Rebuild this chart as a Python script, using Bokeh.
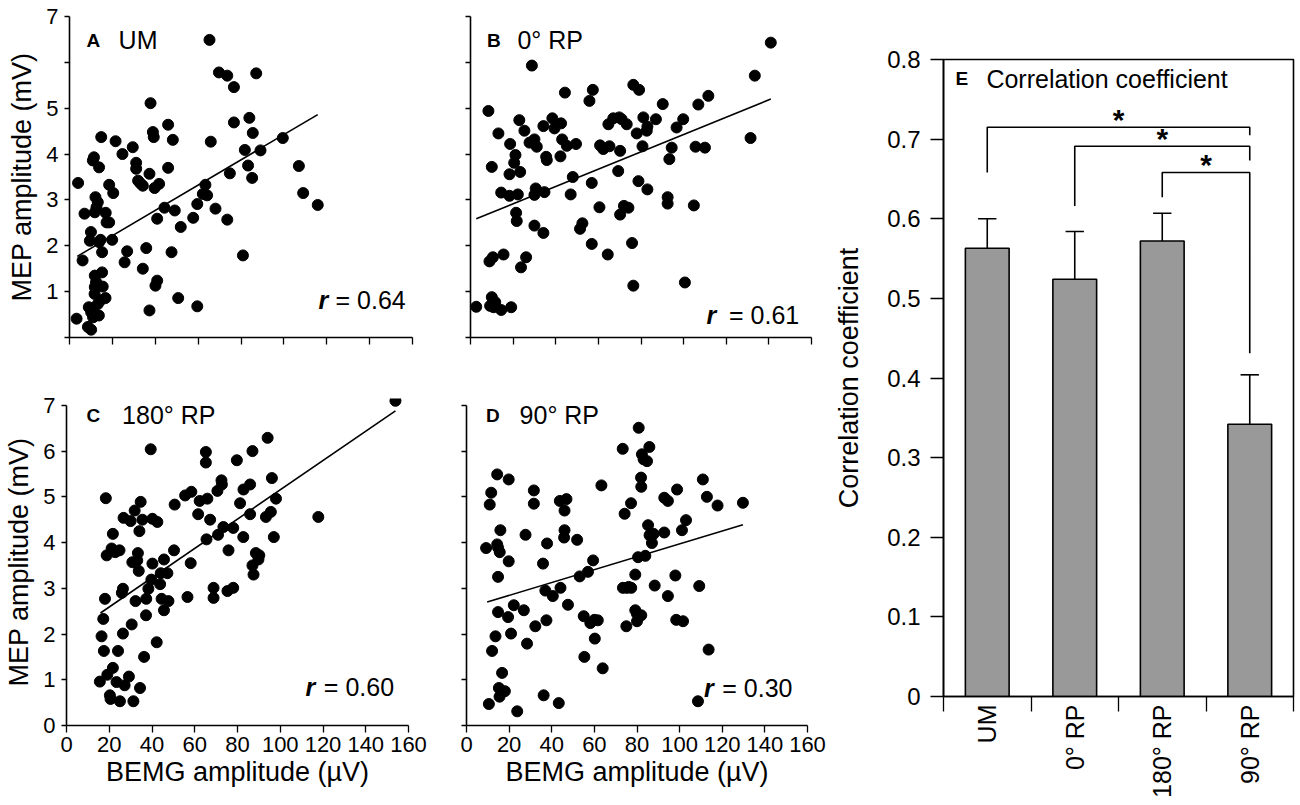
import math
from bokeh.plotting import figure
from bokeh.layouts import row, column
from bokeh.models import Range1d, FixedTicker, Label
from bokeh.core.properties import value
from bokeh.embed import file_html
from bokeh.resources import INLINE

FONT = "Liberation Sans"

# ---------------- data ----------------
x_ticks = [0, 20, 40, 60, 80, 100, 120, 140, 160]
y_ticks = [0, 1, 2, 3, 4, 5, 6, 7]

um_x = [3.3, 4.0, 6.1, 7.0, 8.6, 10.1, 10.0, 9.5, 11.4, 10.9, 12.1, 13.2, 12.6, 11.8, 13.8, 14.8,
        9.0, 10.1, 11.4, 11.0, 13.7, 11.8, 12.4, 11.8, 11.7, 13.2, 14.5, 15.2, 15.5, 16.8, 15.2,
        14.5, 13.8, 16.9, 17.3, 18.5, 18.5, 20.4, 19.9, 21.5, 24.7, 25.7, 26.9, 29.5, 31.1, 31.1,
        32.0, 33.1, 34.2, 34.2, 35.8, 37.3, 37.3, 37.8, 38.9, 39.3, 39.7, 41.8, 40.9, 40.1, 40.9,
        44.3, 46.0, 46.0, 47.6, 48.2, 49.1, 50.7, 51.9, 57.7, 59.6, 59.6, 62.2, 63.4, 64.2, 65.3,
        65.9, 68.1, 69.7, 73.6, 73.6, 74.8, 76.7, 76.7, 80.9, 81.8, 83.3, 83.9, 85.2, 85.5, 87.1,
        89.1, 99.5, 107.0, 109.0, 115.8]
um_y = [0.41, 3.37, 1.68, 2.70, 0.23, 0.17, 2.30, 2.11, 3.93, 3.86, 3.06, 2.95, 2.84, 2.73, 3.71, 4.37,
        0.66, 0.55, 0.52, 0.44, 0.48, 1.35, 1.21, 1.10, 0.95, 0.73, 0.81, 1.42, 1.11, 0.86, 1.86,
        2.13, 2.08, 2.72, 2.51, 2.51, 3.33, 3.15, 2.13, 4.28, 4.00, 1.64, 1.88, 4.15, 3.81, 3.68,
        3.42, 3.36, 3.31, 1.50, 1.95, 3.57, 0.59, 5.11, 4.48, 4.37, 3.26, 3.35, 2.59, 1.13, 1.24,
        2.83, 4.64, 3.70, 1.86, 4.31, 2.77, 0.86, 2.41, 2.61, 2.91, 0.68, 3.13, 3.33, 3.10, 6.49,
        4.27, 2.81, 5.78, 5.71, 2.57, 3.58, 5.46, 4.69, 1.79, 4.09, 3.75, 4.79, 3.48, 4.46, 5.76,
        4.08, 4.35, 3.74, 3.15, 2.89]
um_fit_x = [3.6, 115.8]
um_fit_y = [1.77, 4.86]

rp0_x = [2.7, 8.4, 8.9, 10.0, 10.5, 9.2, 10.0, 10.8, 11.6, 14.4, 19.1, 13.1, 14.4, 15.5, 18.3, 18.3,
         18.6, 20.5, 21.1, 21.4, 21.7, 22.2, 23.3, 22.9, 23.7, 25.3, 26.1, 27.7, 28.8, 30.0, 30.0,
         30.0, 30.6, 31.1, 34.2, 34.2, 34.7, 35.5, 35.8, 38.4, 39.4, 42.2, 42.5, 43.0, 44.3, 45.2,
         47.0, 48.0, 49.5, 51.4, 52.5, 55.8, 56.9, 57.4, 56.9, 60.5, 60.8, 62.3, 64.7, 65.2, 64.4,
         67.0, 69.3, 69.8, 70.2, 70.2, 70.9, 72.0, 73.3, 74.1, 75.8, 76.4, 76.4, 78.0, 78.8, 79.1,
         80.7, 81.1, 82.7, 83.0, 83.0, 87.0, 90.2, 92.5, 92.5, 93.3, 94.4, 96.7, 99.8, 100.6, 104.8,
         105.6, 106.9, 110.0, 111.6, 131.4, 133.4, 140.9]
rp0_y = [0.67, 4.94, 1.66, 3.72, 1.75, 0.69, 0.88, 0.66, 0.77, 0.60, 0.66, 4.45, 3.16, 1.81, 3.09, 3.56,
         4.22, 3.81, 3.98, 2.72, 2.54, 3.12, 3.61, 4.74, 1.53, 4.51, 1.75, 4.25, 5.93, 4.32, 2.44,
         3.11, 3.25, 4.16, 4.61, 2.28, 3.17, 3.94, 3.87, 4.78, 4.56, 3.95, 4.67, 4.32, 5.34, 4.18,
         3.12, 3.50, 4.22, 2.37, 2.49, 5.16, 3.37, 5.40, 2.04, 2.84, 4.19, 4.11, 4.65, 4.17, 1.81,
         4.78, 3.63, 4.80, 2.68, 4.07, 4.76, 2.87, 4.65, 2.83, 2.06, 5.51, 1.13, 4.45, 3.41, 5.40,
         4.17, 4.80, 4.51, 4.60, 3.23, 4.76, 5.09, 3.06, 2.92, 3.89, 4.14, 4.58, 4.76, 1.20, 2.88,
         4.16, 5.08, 4.14, 5.27, 4.35, 5.71, 6.43]
rp0_fit_x = [2.7, 140.9]
rp0_fit_y = [2.59, 5.20]

rp180_x = [15.6, 16.4, 17.2, 17.5, 18.0, 18.4, 18.8, 19.1, 20.3, 20.6, 21.7, 21.7, 21.1, 22.8, 23.4,
           24.1, 24.8, 25.0, 25.9, 26.4, 26.4, 26.7, 27.2, 29.2, 30.0, 30.8, 30.5, 31.3, 31.9, 32.3,
           33.4, 33.1, 33.8, 34.1, 34.7, 34.4, 35.5, 36.3, 37.2, 37.3, 38.3, 39.4, 39.7, 40.2, 40.2,
           42.2, 42.5, 43.8, 44.1, 44.5, 45.6, 45.6, 47.2, 47.7, 50.3, 50.6, 55.5, 56.6, 58.1, 58.4,
           61.6, 62.3, 65.2, 65.2, 65.5, 65.9, 67.2, 68.8, 68.8, 70.6, 70.9, 72.5, 72.7, 73.4, 75.3,
           75.8, 78.0, 78.0, 79.7, 81.2, 82.7, 82.8, 85.9, 85.9, 87.0, 87.0, 87.5, 88.6, 89.8, 90.2,
           93.3, 94.1, 95.6, 96.1, 97.0, 98.0, 117.8, 153.9]
rp180_y = [0.96, 1.95, 2.33, 1.63, 2.77, 4.97, 3.72, 1.11, 0.66, 0.58, 1.26, 4.19, 3.87, 3.79, 0.95,
           1.63, 3.83, 0.53, 2.90, 2.99, 2.01, 4.54, 0.88, 1.07, 4.47, 3.57, 2.21, 0.53, 4.70, 2.72,
           3.77, 3.61, 3.38, 4.25, 4.89, 0.82, 4.50, 1.50, 2.41, 2.77, 2.99, 6.04, 3.19, 3.54, 4.52,
           1.82, 4.45, 3.09, 3.33, 2.77, 3.63, 2.52, 3.33, 2.72, 3.83, 4.83, 5.03, 2.81, 3.55, 5.11,
           4.62, 4.91, 5.98, 5.75, 4.07, 4.96, 4.50, 3.01, 2.79, 5.13, 4.17, 5.36, 5.27, 4.34, 2.94,
           3.83, 3.01, 4.32, 5.80, 4.86, 4.12, 5.16, 5.27, 4.62, 6.00, 3.50, 3.30, 3.77, 3.63, 3.72,
           4.56, 6.29, 4.67, 5.41, 4.12, 4.96, 4.56, 7.10]
rp180_fit_x = [15.9, 153.9]
rp180_fit_y = [2.46, 6.88]

rp90_x = [9.2, 10.5, 10.9, 11.6, 12.0, 13.6, 14.4, 14.4, 14.8, 14.8, 14.8, 15.2, 15.5, 15.6, 15.9,
          16.7, 18.0, 19.5, 19.8, 19.8, 20.9, 22.2, 23.8, 26.9, 27.7, 28.4, 31.6, 31.6, 32.3, 35.9,
          36.2, 37.0, 37.5, 37.8, 40.5, 43.8, 44.1, 43.3, 46.0, 46.0, 45.8, 46.9, 47.6, 51.9, 53.1,
          55.0, 55.3, 57.0, 58.1, 59.4, 60.0, 60.2, 61.6, 63.3, 63.9, 73.3, 73.4, 74.2, 75.0, 75.3,
          76.1, 77.2, 77.3, 79.2, 79.2, 80.0, 80.0, 80.5, 80.8, 81.9, 82.0, 82.3, 82.0, 83.1, 83.9,
          84.7, 85.2, 85.8, 85.9, 87.0, 87.8, 88.3, 92.8, 92.8, 94.5, 94.5, 98.0, 98.4, 98.8, 101.6,
          101.1, 103.0, 108.6, 109.2, 110.9, 112.8, 113.6, 117.8, 129.7]
rp90_y = [3.88, 0.47, 4.83, 5.09, 1.63, 1.95, 5.49, 3.96, 3.89, 3.25, 2.48, 0.82, 0.63, 3.79, 4.27,
          1.15, 0.75, 2.37, 5.38, 3.59, 2.01, 2.63, 0.31, 2.52, 4.17, 1.79, 5.14, 4.85, 2.17, 3.54,
          0.66, 2.95, 2.30, 3.98, 2.83, 4.91, 3.01, 0.49, 4.70, 4.27, 4.11, 4.95, 2.64, 4.06, 3.26,
          2.39, 1.50, 3.36, 2.24, 3.61, 2.31, 1.90, 2.30, 5.25, 1.25, 6.05, 3.01, 4.63, 2.17, 3.01,
          3.03, 4.86, 3.01, 3.30, 2.52, 2.44, 2.28, 3.68, 6.51, 5.42, 5.22, 5.93, 2.41, 5.82, 3.71,
          5.78, 4.38, 6.09, 4.16, 3.99, 4.19, 3.06, 4.22, 4.98, 4.91, 2.83, 3.28, 2.31, 5.16, 2.28,
          4.27, 4.49, 0.53, 3.05, 5.38, 5.00, 1.66, 4.81, 4.87]
rp90_fit_x = [9.7, 129.7]
rp90_fit_y = [2.70, 4.39]

# bar chart (panel E)
categories = ["UM", "0° RP", "180° RP", "90° RP"]
corr_mean = [0.563, 0.524, 0.572, 0.342]
corr_upper = [0.600, 0.584, 0.607, 0.404]
corr_ticks = [0.0, 0.1, 0.2, 0.3, 0.4, 0.5, 0.6, 0.7, 0.8]
# significance brackets: from category index -> to category index
br_from = [0, 1, 2]
br_to = [3, 3, 3]
br_top = [0.715, 0.691, 0.658]
br_left_end = [0.658, 0.616, 0.627]
br_right_end = [0.705, 0.673, 0.431]


def style_axis(ax, fs_tick="22px"):
    ax.axis_line_color = "black"
    ax.axis_line_width = 1.6
    ax.major_tick_line_color = "black"
    ax.major_tick_line_width = 1.3
    ax.minor_tick_line_color = None
    ax.major_tick_in = 0
    ax.major_label_text_font = FONT
    ax.major_label_text_font_size = fs_tick
    ax.major_label_text_color = "black"
    ax.axis_label_text_font = FONT
    ax.axis_label_text_font_size = "27px"
    ax.axis_label_text_font_style = "normal"
    ax.axis_label_text_color = "black"


def scatter_panel(xs, ys, fx, fy, letter, title, rval, width, height, borders, yend,
                  show_xlabels, show_ylabels, hide_y, pos):
    left, right, top, bottom = borders
    p = figure(width=width, height=height, x_range=Range1d(0, 160), y_range=Range1d(0, yend),
               output_backend="svg", toolbar_location=None,
               min_border_left=left, min_border_right=right,
               min_border_top=top, min_border_bottom=bottom)
    p.outline_line_color = None
    p.grid.visible = False
    p.scatter(xs, ys, size=11, color="black")
    p.line(fx, fy, line_color="black", line_width=1.6)

    xa = p.xaxis[0]
    style_axis(xa)
    xa.ticker = FixedTicker(ticks=x_ticks)
    xa.major_tick_out = 7
    xa.major_label_standoff = 4
    xa.axis_label_standoff = 2
    if show_xlabels:
        xa.axis_label = "BEMG amplitude (µV)"
    else:
        xa.major_label_overrides = {t: "" for t in x_ticks}

    ya = p.yaxis[0]
    style_axis(ya)
    ya.ticker = FixedTicker(ticks=y_ticks)
    ya.bounds = (0, 7)
    ya.major_tick_out = 5
    ya.major_label_standoff = 6
    ya.axis_label_standoff = 6
    if show_ylabels:
        ya.axis_label = "MEP amplitude (mV)"
        ya.major_label_overrides = {t: "" for t in hide_y}
    else:
        ya.major_label_overrides = {t: "" for t in y_ticks}

    lx, tx, ty, rx, ex, ry = pos
    p.add_layout(Label(x=lx, y=ty, text=letter, text_font=FONT, text_font_style="bold",
                       text_font_size="19px", text_baseline="middle", text_color="black"))
    p.add_layout(Label(x=tx, y=ty, text=title, text_font=FONT, text_font_size="25px",
                       text_baseline="middle", text_color="black"))
    p.add_layout(Label(x=rx, y=ry, text="r", text_font=FONT, text_font_style="bold italic",
                       text_font_size="25px", text_baseline="alphabetic", text_color="black"))
    p.add_layout(Label(x=ex, y=ry, text=rval, text_font=FONT, text_font_size="25px",
                       text_baseline="alphabetic", text_color="black"))
    return p


pA = scatter_panel(um_x, um_y, um_fit_x, um_fit_y, "A", "UM", "= 0.64", 440, 370,
                   (69, 28, 16, 33), 7, False, True, [0, 6],
                   (7.9, 22.9, 6.48, 116.2, 124.1, 0.81))
pB = scatter_panel(rp0_x, rp0_y, rp0_fit_x, rp0_fit_y, "B", "0° RP", "= 0.61", 390, 370,
                   (30, 19, 16, 33), 7, False, False, [],
                   (7.7, 22.0, 6.48, 110.7, 121.3, 0.48))
pC = scatter_panel(rp180_x, rp180_y, rp180_fit_x, rp180_fit_y, "C", "180° RP", "= 0.60", 440, 430,
                   (66, 32, 28, 75), 7.15, True, True, [],
                   (9.4, 26.0, 6.78, 111.8, 120.4, 0.85))
pD = scatter_panel(rp90_x, rp90_y, rp90_fit_x, rp90_fit_y, "D", "90° RP", "= 0.30", 390, 430,
                   (26, 23, 28, 75), 7.15, True, False, [],
                   (9.2, 24.9, 6.78, 111.4, 120.0, 0.81))

# ---------------- panel E ----------------
n = len(categories)
cat_pos = list(range(n))
pE = figure(width=466, height=800, x_range=Range1d(-0.5, n - 0.5), y_range=Range1d(0, 0.8),
            output_backend="svg", toolbar_location=None,
            min_border_left=113, min_border_right=3, min_border_top=59, min_border_bottom=103)
pE.grid.visible = False
pE.outline_line_color = "black"
pE.outline_line_width = 1.6
pE.outline_line_alpha = 1.0

pE.vbar(x=cat_pos, top=corr_mean, width=0.5, fill_color="#999999", line_color="black",
        line_width=1.6)
pE.segment(x0=cat_pos, y0=corr_mean, x1=cat_pos, y1=corr_upper, line_color="black", line_width=1.6)
cap = 0.105
pE.segment(x0=[c - cap for c in cat_pos], y0=corr_upper, x1=[c + cap for c in cat_pos],
           y1=corr_upper, line_color="black", line_width=1.6)

br_xs = []
br_ys = []
for a, b, t, le, re in zip(br_from, br_to, br_top, br_left_end, br_right_end):
    br_xs.append([cat_pos[a], cat_pos[a], cat_pos[b], cat_pos[b]])
    br_ys.append([le, t, t, re])
pE.multi_line(br_xs, br_ys, line_color="black", line_width=1.6)
pE.text(x=[(cat_pos[a] + cat_pos[b]) / 2 for a, b in zip(br_from, br_to)], y=br_top,
        text=["*"] * len(br_top), text_align="center", text_baseline="alphabetic",
        text_font=value(FONT), text_font_size="30px", text_font_style="bold",
        text_color="black", y_offset=-8)

xa = pE.xaxis[0]
style_axis(xa, "25px")
xa.ticker = FixedTicker(ticks=cat_pos, minor_ticks=[c - 0.5 for c in cat_pos] + [n - 0.5])
xa.major_label_overrides = {c: lab for c, lab in zip(cat_pos, categories)}
xa.major_tick_out = 0
xa.minor_tick_line_color = "black"
xa.minor_tick_line_width = 1.3
xa.minor_tick_out = 15
xa.minor_tick_in = 0
xa.major_label_orientation = math.pi / 2
xa.major_label_standoff = -7

ya = pE.yaxis[0]
style_axis(ya, "24px")
ya.ticker = FixedTicker(ticks=corr_ticks)
ya.major_label_overrides = {0: "0"}
ya.major_tick_out = 13
ya.major_label_standoff = 10
ya.axis_label = "Correlation coefficient"
ya.axis_label_standoff = 20

pE.add_layout(Label(x=-0.363, y=0.776, text="E", text_font=FONT, text_font_style="bold",
                    text_font_size="19px", text_baseline="middle", text_color="black"))
pE.add_layout(Label(x=-0.01, y=0.776, text="Correlation coefficient", text_font=FONT,
                    text_font_size="25px", text_baseline="middle", text_color="black"))

layout = row(column(row(pA, pB), row(pC, pD)), pE)
open("out.html", "w").write(file_html(layout, INLINE))
